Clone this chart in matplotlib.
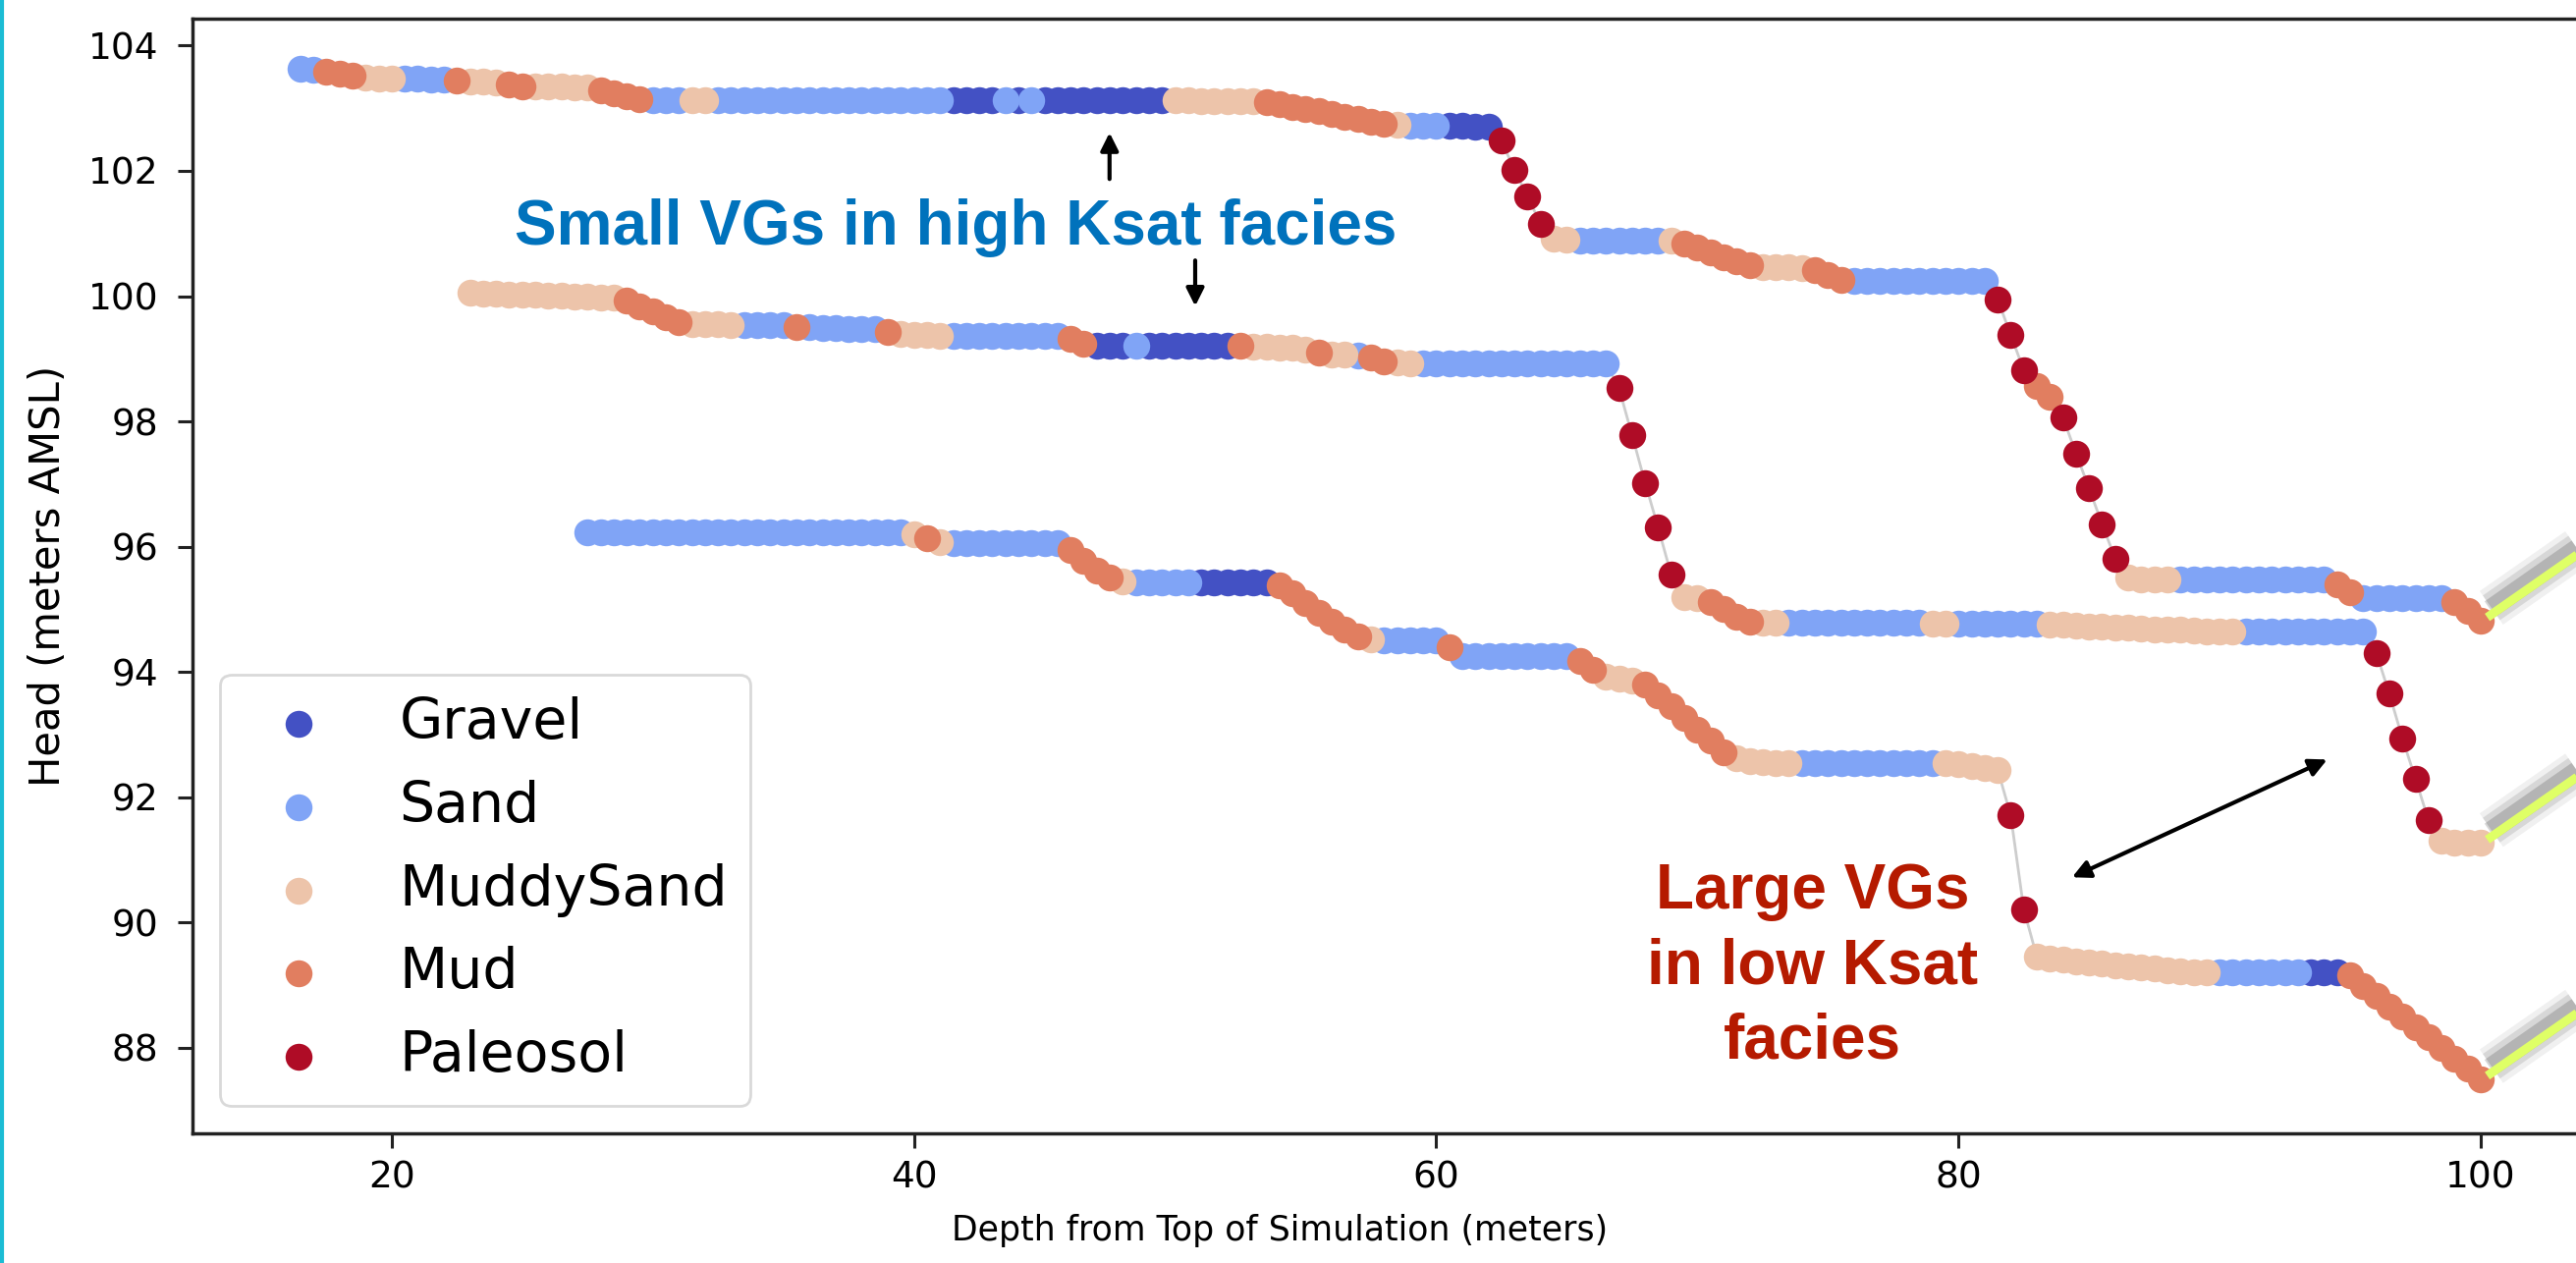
import numpy as np
import matplotlib
matplotlib.use("Agg")
import matplotlib.pyplot as plt
import matplotlib.patheffects as pe
from matplotlib.lines import Line2D

# facies, in drawing order (later ones sit on top)
facies = ["Gravel", "Sand", "MuddySand", "Mud", "Paleosol"]
codes = ["G", "S", "M", "D", "P"]
colors = ["#4351C4", "#80A4F6", "#EDC4AA", "#E17E60", "#AF0C26"]

# one cell every 0.5 m of depth
cell = 0.5

# upper profile, starts at 16.5 m
top1 = 16.5
runs1 = [("S", 2), ("D", 3), ("M", 3), ("S", 4), ("D", 1), ("M", 3), ("D", 2),
         ("M", 5), ("D", 4), ("S", 3), ("M", 2), ("S", 18), ("G", 4), ("S", 1),
         ("G", 1), ("S", 1), ("G", 10), ("M", 7), ("D", 10), ("M", 1), ("S", 3),
         ("G", 4), ("P", 4), ("M", 2), ("S", 7), ("M", 1), ("D", 6), ("M", 4),
         ("D", 3), ("S", 11), ("P", 3), ("D", 2), ("P", 5), ("M", 4), ("S", 12),
         ("D", 2), ("S", 7), ("D", 3)]
head1 = ([103.63, 103.62, 103.58, 103.55, 103.52, 103.49, 103.48, 103.47,
          103.47, 103.47, 103.46, 103.46, 103.45, 103.43, 103.42, 103.41,
          103.38, 103.35, 103.35, 103.35, 103.35, 103.34, 103.33,
          103.29, 103.24, 103.19, 103.15]
         + [103.13] * 40
         + [103.13, 103.13, 103.12, 103.12, 103.12, 103.11, 103.11,
            103.10, 103.06, 103.02, 102.98, 102.95, 102.91, 102.87, 102.83,
            102.79, 102.75,
            102.73, 102.72, 102.72, 102.72, 102.72, 102.72, 102.71, 102.71,
            102.48, 102.01, 101.59, 101.15, 100.92, 100.90]
         + [100.89] * 7
         + [100.88, 100.84, 100.77, 100.70, 100.62, 100.55, 100.50,
            100.47, 100.47, 100.46, 100.45, 100.41, 100.33, 100.26]
         + [100.24] * 11
         + [99.95, 99.38, 98.82, 98.56, 98.40, 98.06, 97.49, 96.93, 96.36,
            95.81, 95.50, 95.48, 95.47, 95.47]
         + [95.47] * 12
         + [95.40, 95.27]
         + [95.18] * 7
         + [95.12, 94.97, 94.82])

# middle profile, starts at 23 m
top2 = 23.0
runs2 = [("M", 12), ("D", 5), ("M", 4), ("S", 4), ("D", 1), ("S", 6), ("D", 1),
         ("M", 4), ("S", 9), ("D", 2), ("G", 3), ("S", 1), ("G", 7), ("D", 1),
         ("M", 5), ("D", 1), ("M", 2), ("S", 1), ("D", 2), ("M", 2), ("S", 15),
         ("P", 5), ("M", 2), ("D", 4), ("M", 2), ("S", 11), ("M", 2), ("S", 7),
         ("M", 15), ("S", 10), ("P", 5), ("M", 4)]
head2 = ([100.05, 100.04, 100.04, 100.03, 100.03, 100.02, 100.01, 100.01,
          100.00, 99.99, 99.98, 99.97,
          99.93, 99.84, 99.75, 99.66, 99.59,
          99.56, 99.55, 99.55, 99.54,
          99.53, 99.53, 99.53, 99.53, 99.51,
          99.50, 99.49, 99.49, 99.48, 99.48, 99.47, 99.42,
          99.39, 99.38, 99.38, 99.37]
         + [99.37] * 9
         + [99.32, 99.24]
         + [99.21] * 12
         + [99.20, 99.19, 99.18, 99.17, 99.15, 99.10, 99.07, 99.06, 99.05,
            99.02, 98.96, 98.94, 98.93]
         + [98.93] * 15
         + [98.53, 97.78, 97.02, 96.30, 95.55, 95.20, 95.18,
            95.12, 95.00, 94.88, 94.80]
         + [94.78] * 13
         + [94.77] * 9
         + [94.76, 94.75, 94.74, 94.73, 94.72, 94.71, 94.70, 94.69,
            94.68, 94.68, 94.67, 94.66, 94.65, 94.65, 94.64]
         + [94.64] * 10
         + [94.30, 93.65, 92.94, 92.29, 91.63, 91.30, 91.28, 91.27, 91.27])

# lower profile, starts at 27.5 m
top3 = 27.5
runs3 = [("S", 25), ("M", 1), ("D", 1), ("M", 1), ("S", 9), ("D", 4), ("M", 1),
         ("S", 5), ("G", 6), ("D", 7), ("M", 1), ("S", 5), ("D", 1), ("S", 9),
         ("D", 2), ("M", 3), ("D", 7), ("M", 5), ("S", 11), ("M", 5), ("P", 2),
         ("M", 14), ("S", 7), ("G", 3), ("D", 11)]
head3 = ([96.23] * 25
         + [96.20, 96.13, 96.07]
         + [96.05] * 9
         + [95.95, 95.78, 95.62, 95.50, 95.45]
         + [95.43] * 11
         + [95.38, 95.25, 95.10, 94.95, 94.80, 94.67, 94.56, 94.52]
         + [94.50] * 5
         + [94.40]
         + [94.26] * 9
         + [94.17, 94.03, 93.93, 93.89, 93.86,
            93.80, 93.63, 93.45, 93.27, 93.08, 92.90, 92.72,
            92.62, 92.58, 92.56]
         + [92.55] * 13
         + [92.54, 92.52, 92.50, 92.47, 92.44, 91.71, 90.21,
            89.45, 89.42, 89.40, 89.38, 89.36, 89.34, 89.32, 89.30, 89.28,
            89.26, 89.24, 89.22, 89.21, 89.20]
         + [89.20] * 10
         + [89.15, 88.99, 88.82, 88.66, 88.49, 88.33, 88.16, 88.00, 87.83,
            87.67, 87.50])

profiles = [(top1, runs1, head1), (top2, runs2, head2), (top3, runs3, head3)]

fig = plt.figure(figsize=(26.23, 12.86), dpi=100)
ax = fig.add_axes([0.0747, 0.1026, 0.9306, 0.8826])

pts = {c: ([], []) for c in codes}
ends = []
for top, runs, head in profiles:
    fac = [c for c, n in runs for _ in range(n)]
    assert len(fac) == len(head)
    depth = top + cell * np.arange(len(head))
    ax.plot(depth, head, color="#cdcdcd", lw=2, zorder=1)
    for d, h, c in zip(depth, head, fac):
        pts[c][0].append(d)
        pts[c][1].append(h)
    ends.append((depth[-1], head[-1]))

for name, c, col in zip(facies, codes, colors):
    ax.scatter(pts[c][0], pts[c][1], s=390, color=col, linewidths=0,
               label=name, zorder=2)

ax.set_xlim(12.37, 104.17)
ax.set_ylim(86.63, 104.43)
ax.set_xticks([20, 40, 60, 80, 100])
ax.set_yticks(np.arange(88, 105, 2))
ax.tick_params(labelsize=27, length=11, width=2.2, color="#222222")
ax.tick_params(axis="x", pad=9)
ax.tick_params(axis="y", pad=14)
for sp in ax.spines.values():
    sp.set_linewidth(2.5)
    sp.set_color("#222222")

ax.set_xlabel("Depth from Top of Simulation (meters)", fontsize=25)
ax.xaxis.set_label_coords(0.4535, -0.072)
ax.set_ylabel("Head (meters AMSL)", fontsize=30)
ax.yaxis.set_label_coords(-0.0516, 0.5)

leg = ax.legend(loc="lower left", fontsize=41, borderaxespad=0.5,
                labelspacing=0.52, edgecolor="#d0d0d0")
leg.get_frame().set_linewidth(2)

# annotations
ax.text(41.6, 100.82, "Small VGs in high Ksat facies", color="#0072BC",
        fontsize=46, fontweight="bold", family="Liberation Sans",
        ha="center", va="baseline")
ax.text(74.42, 90.96, "Large VGs\nin low Ksat\nfacies", color="#B51A00",
        fontsize=46, fontweight="bold", family="Liberation Sans",
        ha="center", va="top", linespacing=1.35)

arrow = dict(arrowstyle="-|>", color="black", lw=3, mutation_scale=27,
             shrinkA=0, shrinkB=0)
ax.annotate("", xy=(47.49, 102.61), xytext=(47.49, 101.87), arrowprops=arrow)
ax.annotate("", xy=(50.77, 99.84), xytext=(50.77, 100.57), arrowprops=arrow)
ax.annotate("", xy=(84.35, 90.72), xytext=(94.12, 92.60),
            arrowprops=dict(arrow, arrowstyle="<|-|>"))

# callout lines leaving the right edge, with a soft shadow
shadow = [pe.Stroke(linewidth=30, foreground="k", alpha=0.06, offset=(3, 7)),
          pe.Stroke(linewidth=22, foreground="k", alpha=0.10, offset=(3, 7)),
          pe.Stroke(linewidth=14, foreground="k", alpha=0.16, offset=(2, 6)),
          pe.Normal()]
for x_end, h_end in ends:
    ax.plot([x_end + 0.25, x_end + 5.0], [h_end + 0.05, h_end + 0.05 + 4.75 * 0.291],
            color="#DFFF66", lw=6.5, solid_capstyle="butt", clip_on=False,
            zorder=5, path_effects=shadow)

fig.add_artist(Line2D([0.0008, 0.0008], [0, 1], transform=fig.transFigure,
                      color="#1BBCD4", lw=3))

fig.savefig("out.png", dpi=100)
